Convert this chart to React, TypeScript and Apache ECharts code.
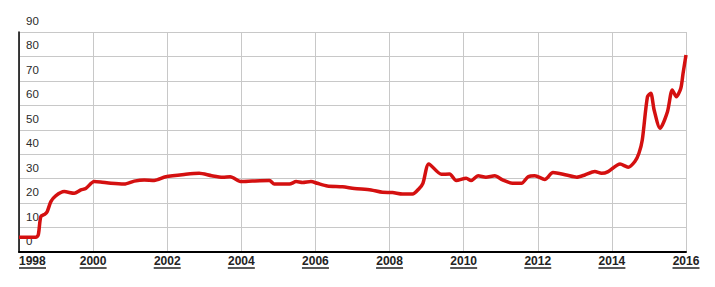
import React, { useEffect, useRef } from "react";
import * as echarts from "echarts";

const years: number[] = [
  1998.0, 1998.45, 1998.52, 1998.59, 1998.7, 1998.76, 1998.86, 1998.99, 1999.22, 1999.49,
  1999.67, 1999.8, 2000.03, 2000.2, 2000.48, 2000.84, 2001.11, 2001.38, 2001.65, 2001.96,
  2002.5, 2002.86, 2003.2, 2003.5, 2003.7, 2004.0, 2004.3, 2004.76, 2004.89, 2005.3,
  2005.48, 2005.65, 2005.88, 2006.05, 2006.32, 2006.73, 2007.05, 2007.5, 2007.81, 2008.08,
  2008.35, 2008.62, 2008.8, 2008.9, 2009.06, 2009.4, 2009.62, 2009.8, 2010.07, 2010.2,
  2010.39, 2010.6, 2010.84, 2011.05, 2011.32, 2011.56, 2011.74, 2011.92, 2012.19, 2012.41,
  2012.77, 2013.05, 2013.27, 2013.54, 2013.72, 2013.9, 2014.22, 2014.44, 2014.62, 2014.73,
  2014.82, 2014.96, 2015.05, 2015.14, 2015.3, 2015.5, 2015.63, 2015.74, 2015.86, 2015.92,
  2016.0,
];

const values: number[] = [
  6, 6, 7, 14.5, 15.5, 16.5, 20.6, 23, 24.7, 24,
  25.4, 26, 28.8, 28.6, 28.1, 27.8, 29, 29.5, 29.3, 30.8,
  31.8, 32.2, 31.2, 30.6, 30.8, 28.8, 29, 29.2, 27.8, 27.8,
  28.8, 28.4, 28.8, 28.1, 27, 26.7, 26, 25.4, 24.4, 24.3,
  23.7, 23.7, 26, 28.1, 36, 31.8, 31.9, 29.2, 30.2, 29.2,
  31.2, 30.6, 31.2, 29.5, 28.1, 28.1, 30.8, 31.2, 29.7, 32.5,
  31.5, 30.6, 31.5, 32.9, 32.2, 32.9, 36, 34.7, 37, 40.4,
  45.8, 63.5, 64.9, 58.1, 50.6, 57.4, 66.3, 63.5, 67, 73,
  80.6,
];

const xMin = 1998;
const xMax = 2016;
const xStep = 2;
const yMin = 0;
const yMax = 90;
const yStep = 10;

export default function App() {
  const ref = useRef<HTMLDivElement>(null);

  useEffect(() => {
    if (!ref.current) return;
    const chart = echarts.init(ref.current, undefined, { renderer: "svg" });
    const data = years.map((y, i) => [y, values[i]]);
    chart.setOption({
      animation: false,
      backgroundColor: "#ffffff",
      grid: { left: 19, right: 29, top: 32, bottom: 35, containLabel: false },
      xAxis: {
        type: "value",
        min: xMin,
        max: xMax,
        interval: xStep,
        axisLine: { show: true, onZero: false, lineStyle: { color: "#000", width: 2 } },
        axisTick: { show: false },
        splitLine: { show: true, lineStyle: { color: "#c8c8c8", width: 1 } },
        axisLabel: {
          margin: 3,
          alignMinLabel: "left",
          formatter: (v: number) => `{t|${v}}\n{u| }`,
          rich: {
            t: {
              fontFamily: "Liberation Sans, Arial, sans-serif",
              fontSize: 12,
              fontWeight: "bold",
              color: "#222",
              lineHeight: 12,
            },
            u: {
              width: 27,
              height: 1.5,
              lineHeight: 2,
              backgroundColor: "#222",
              fontSize: 1,
            },
          },
        },
      },
      yAxis: {
        type: "value",
        min: yMin,
        max: yMax,
        interval: yStep,
        axisLine: { show: true, lineStyle: { color: "#000", width: 1.5 } },
        axisTick: { show: false },
        splitLine: { show: true, lineStyle: { color: "#c8c8c8", width: 1 } },
        axisLabel: {
          inside: true,
          margin: 7,
          align: "left",
          verticalAlign: "bottom",
          padding: [0, 0, 5, 0],
          fontFamily: "Liberation Sans, Arial, sans-serif",
          fontSize: 11.5,
          color: "#2a2a2a",
        },
      },
      series: [
        {
          type: "line",
          data,
          showSymbol: false,
          smooth: 0.25,
          lineStyle: { color: "#d41010", width: 3.5 },
          itemStyle: { color: "#d41010" },
          clip: false,
        },
      ],
    });
    return () => chart.dispose();
  }, []);

  return <div ref={ref} style={{ width: 715, height: 287, margin: -8 }} />;
}
